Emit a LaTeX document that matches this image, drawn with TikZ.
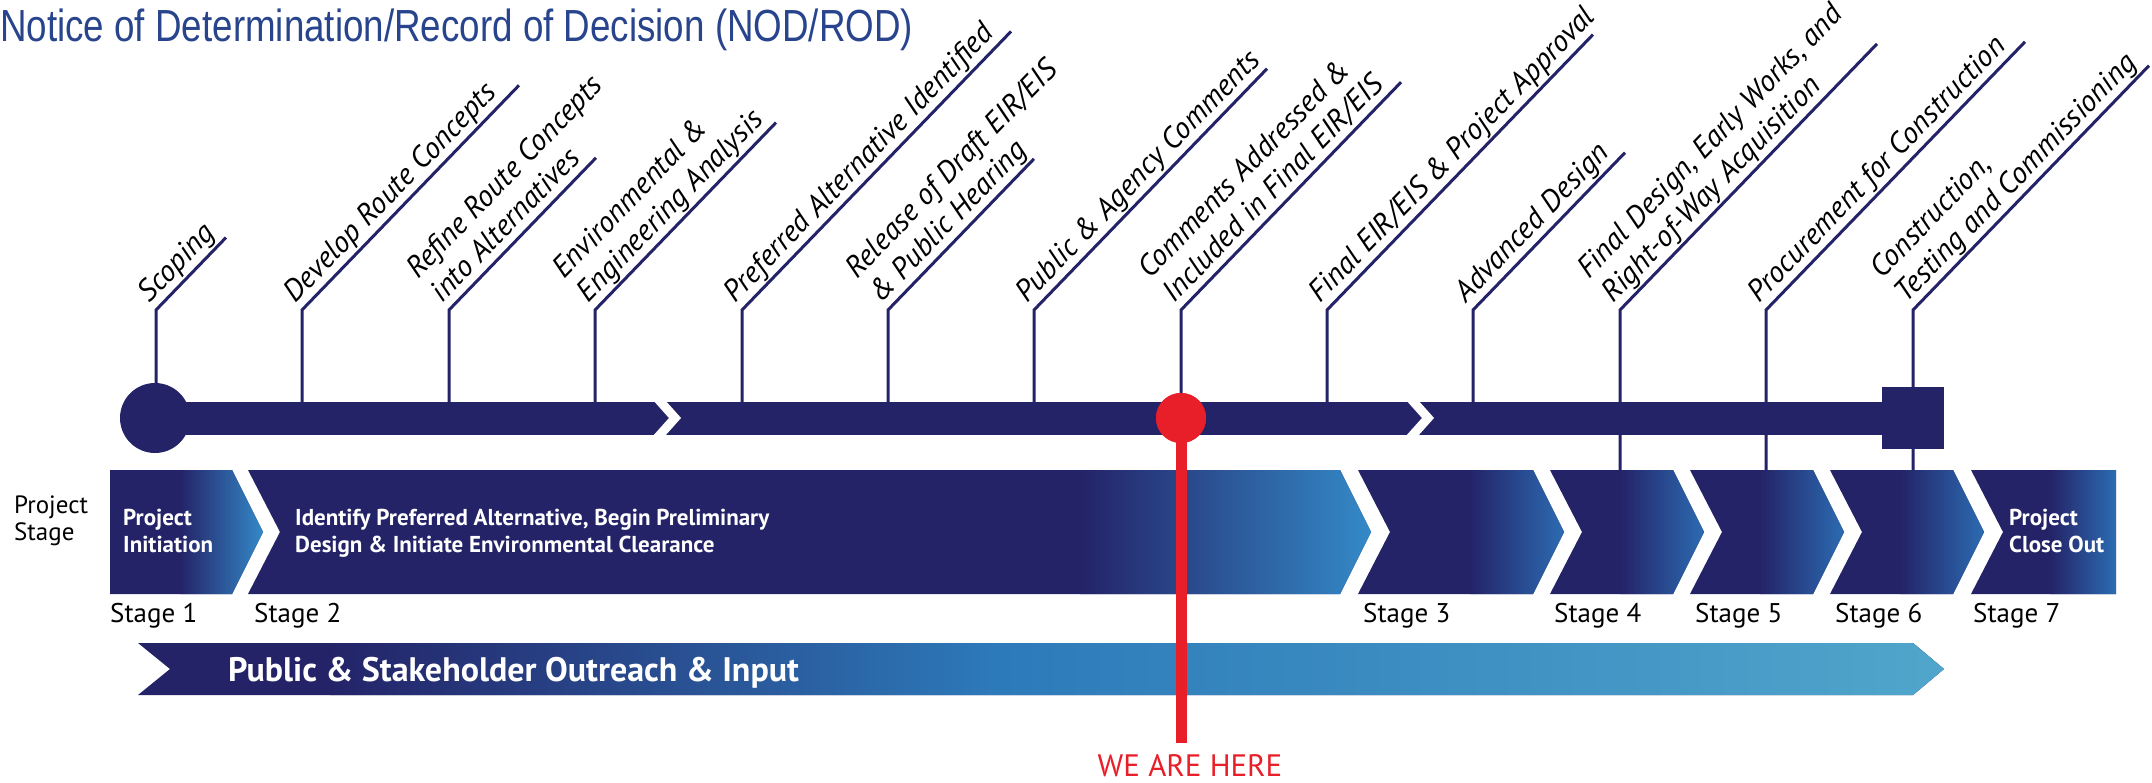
\documentclass[tikz,border=0pt]{standalone}
\usepackage{fontspec}
\setmainfont{PT Sans}
\newfontfamily\titlefont{Liberation Sans}
\usetikzlibrary{calc}
\definecolor{navy}{RGB}{36,35,104}
\definecolor{tipblue}{RGB}{52,138,200}
\definecolor{tipblueb}{RGB}{44,108,178}
\definecolor{midblue}{RGB}{45,122,186}
\definecolor{lightblue}{RGB}{80,166,203}
\definecolor{titleblue}{RGB}{40,68,140}
\definecolor{wered}{RGB}{232,30,40}
\newcommand{\stagechev}[5]{%
  \begin{scope}
    \clip (#1,470) -- (#2,470) -- (#2+31,532) -- (#2,594) -- (#1,594) -- (#1+32,532) -- cycle;
    \fill[navy] (#1-5,465) rectangle (#2+40,600);
    \shade[left color=navy,right color=#4] (#3,465) rectangle (#2+32,600);
  \end{scope}
  \coordinate (#5) at (#1,470);
}
\newcommand{\milestone}[5]{%
  \coordinate (t#1) at (#2,#4);
  \coordinate (b#1) at (#2,310);
  \coordinate (e#1) at (#2+#3,310-#3*1.0355);
  \node[lbl] (l#1) at (#2-6.5,310-6.3) {#5};
  \draw[tick] (t#1) -- (b#1) -- (e#1);
}
\begin{document}
\begin{tikzpicture}[x=1pt,y=-1pt,
  tick/.style={draw=navy,line width=3pt},
  lbl/.style={rotate=46,anchor=base west,inner sep=0pt,align=left,
    font=\fontsize{30}{34}\selectfont\itshape},
  stagelbl/.style={anchor=base west,inner sep=0pt,font=\fontsize{27}{31}\selectfont},
  wtxt/.style={anchor=base west,inner sep=0pt,align=left,text=white,
    font=\fontsize{23}{27}\selectfont\bfseries},
  chev/.style={draw=white,line width=9pt,miter limit=10},
]
\useasboundingbox (0,0) rectangle (2152,783);

% title
\node[anchor=base west,inner sep=0pt,text=titleblue,
  font=\titlefont\fontsize{45}{50}\selectfont] (title) at (0,42)
  {\resizebox{913pt}{\height}{Notice of Determination/Record of Decision (NOD/ROD)}};

% milestones (ticks drawn under the bar)
\milestone{1}{156}{70}{418}{Scoping}
\milestone{2}{302}{217}{418}{Develop Route Concepts}
\milestone{3}{449}{147}{418}{Refine Route Concepts\\into Alternatives}
\milestone{4}{595}{181}{418}{Environmental \&\\Engineering Analysis}
\milestone{5}{742}{269}{418}{Preferred Alternative Identified}
\milestone{6}{888}{146}{418}{Release of Draft EIR/EIS\\\& Public Hearing}
\milestone{7}{1034}{233}{418}{Public \& Agency Comments}
\milestone{8}{1181}{220}{418}{Comments Addressed \&\\Included in Final EIR/EIS}
\milestone{9}{1327}{266}{418}{Final EIR/EIS \& Project Approval}
\milestone{10}{1473}{152}{418}{Advanced Design}
\milestone{11}{1620}{257}{470}{Final Design, Early Works, and\\Right-of-Way Acquisition}
\milestone{12}{1766}{259}{470}{Procurement for Construction}
\milestone{13}{1913}{236}{470}{Construction,\\Testing and Commissioning}

% timeline bar
\node[circle,fill=navy,minimum size=70pt,inner sep=0pt] (start) at (155,418) {};
\node[rectangle,fill=navy,minimum size=62pt,inner sep=0pt] (finish) at (1913,418) {};
\draw[navy,line width=33pt] (start.center) -- (finish.west);
\draw[chev] (650,390) -- (675,418) -- (650,446);
\draw[chev] (1403,390) -- (1428,418) -- (1403,446);

% stage band
\begin{scope}
  \clip (110,470) -- (232,470) -- (263,532) -- (232,594) -- (110,594) -- cycle;
  \fill[navy] (105,465) rectangle (270,600);
  \shade[left color=navy,right color=tipblue] (180,465) rectangle (264,600);
\end{scope}
\coordinate (st1) at (110,470);
\stagechev{248}{1340}{1080}{tipblue}{st2}
\stagechev{1358}{1533}{1470}{tipblueb}{st3}
\stagechev{1550}{1673}{1620}{tipblueb}{st4}
\stagechev{1690}{1813}{1760}{tipblueb}{st5}
\stagechev{1830}{1953}{1900}{tipblueb}{st6}
\begin{scope}
  \clip (1971,470) -- (2116,470) -- (2116,594) -- (1971,594) -- (2003,532) -- cycle;
  \fill[navy] (1965,465) rectangle (2120,600);
  \shade[left color=navy,right color=tipblueb] (2050,465) rectangle (2116,600);
\end{scope}
\coordinate (st7) at (1971,470);

\node[anchor=base west,inner sep=0pt,align=left,font=\fontsize{25}{27}\selectfont] (ps) at (14,540) {Project\\Stage};

\node[wtxt] (s1t) at (123,552) {Project\\Initiation};
\node[wtxt] (s2t) at (295,552) {Identify Preferred Alternative, Begin Preliminary\\Design \& Initiate Environmental Clearance};
\node[wtxt] (s7t) at (2009,552) {Project\\Close Out};

\node[stagelbl] (sl1) at (110,622) {Stage 1};
\node[stagelbl] (sl2) at (254,622) {Stage 2};
\node[stagelbl] (sl3) at (1363,622) {Stage 3};
\node[stagelbl] (sl4) at (1554,622) {Stage 4};
\node[stagelbl] (sl5) at (1695,622) {Stage 5};
\node[stagelbl] (sl6) at (1835,622) {Stage 6};
\node[stagelbl] (sl7) at (1973,622) {Stage 7};

% outreach arrow
\begin{scope}
  \clip (138,643) -- (1913,643) -- (1944,669) -- (1913,695) -- (138,695) -- (170,669) -- cycle;
  \fill[navy] (130,640) rectangle (1950,700);
  \shade[left color=navy,right color=midblue] (330,640) rectangle (1000,700);
  \shade[left color=midblue,right color=lightblue] (1000,640) rectangle (1950,700);
\end{scope}
\node[anchor=base west,inner sep=0pt,text=white,font=\fontsize{34}{38}\selectfont\bfseries] (outreach) at (228,681) {Public \& Stakeholder Outreach \& Input};

% we are here
\node[circle,fill=wered,minimum size=50pt,inner sep=0pt] (here) at (1181,418) {};
\coordinate (hereend) at (1181,743);
\draw[wered,line width=11pt] (here.center) -- (hereend);
\node[circle,fill=wered,minimum size=50pt,inner sep=0pt] at (here) {};
\node[anchor=base,inner sep=0pt,text=wered,font=\fontsize{31}{34}\selectfont] (wah) at (1190,776) {WE ARE HERE};
\end{tikzpicture}
\end{document}
